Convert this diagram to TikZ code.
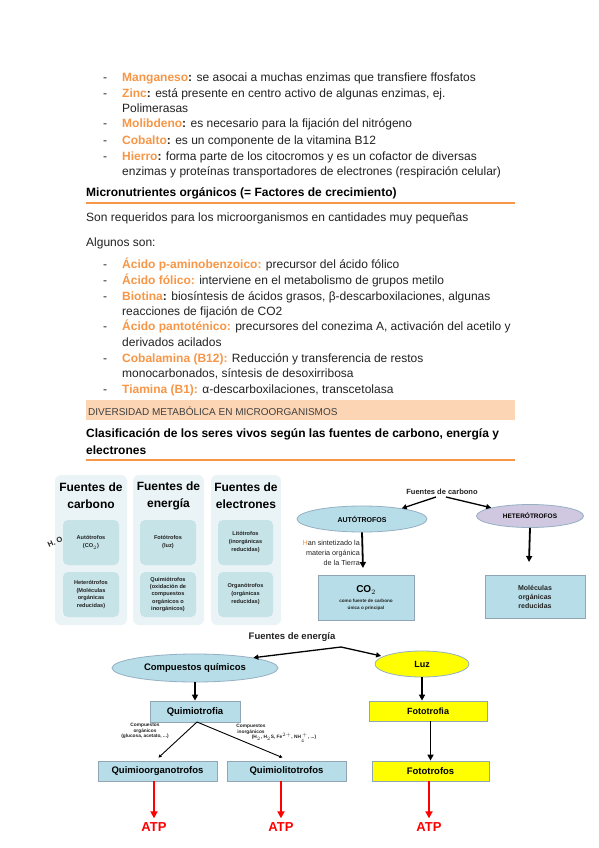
\documentclass[tikz,border=0pt]{standalone}
\usepackage{fontspec}
\setmainfont{Liberation Sans}
\usetikzlibrary{shapes.geometric,arrows.meta}
\definecolor{orng}{HTML}{F79646}
\definecolor{band}{HTML}{FCD5B4}
\definecolor{tblbg}{HTML}{EAF3F5}
\definecolor{tblin}{HTML}{C6E3E8}
\definecolor{lblue}{HTML}{B7DEE8}
\definecolor{lav}{HTML}{D0C8E0}
\definecolor{edgec}{HTML}{95AFC3}
\definecolor{yel}{HTML}{FFFF00}
\definecolor{txt}{HTML}{222222}
\newcommand\og[1]{\textcolor{orng}{\textbf{#1}}}
\begin{document}
\begin{tikzpicture}[x=1pt,y=-1pt,
  body/.style={anchor=base west,inner sep=0,text=txt,font=\fontsize{12}{15}\selectfont},
  dashmark/.style={anchor=base west,inner sep=0,text=txt,font=\fontsize{12}{15}\selectfont},
  hd/.style={anchor=base west,inner sep=0,font=\fontsize{12}{15}\selectfont\bfseries},
  col/.style={fill=tblbg,rounded corners=6pt,inner sep=0},
  cell/.style={fill=tblin,rounded corners=5pt,inner sep=0,minimum width=56,minimum height=45},
  celltxt/.style={align=center,inner sep=0,font=\fontsize{5.6}{8}\selectfont\bfseries,text=txt},
  colhd/.style={align=center,inner sep=0,font=\fontsize{12}{17}\selectfont\bfseries},
  ell/.style={ellipse,draw=edgec,line width=0.8pt,inner sep=0},
  bx/.style={rectangle,draw=edgec!80!gray,line width=0.8pt,inner sep=0},
  blk/.style={-{Triangle[length=6pt,width=6pt]},line width=1.8pt},
  thn/.style={-{Triangle[length=5pt,width=5pt]},line width=1.3pt},
  tiny/.style={-{Triangle[length=3pt,width=3pt]},line width=0.9pt},
  redar/.style={-{Triangle[length=7pt,width=7pt]},line width=1.8pt,red},
  atp/.style={font=\fontsize{13}{15}\selectfont\bfseries,text=red,inner sep=0}
]
\useasboundingbox[fill=white] (0,0) rectangle (599,848);

% ---------- top list ----------
\foreach \yy in {82,98,128,144,160} {\node[dashmark] at (103,\yy) {-};}
\node[body] (l1) at (122,82) {\og{Manganeso}\textbf{:} se asocai a muchas enzimas que transfiere ffosfatos};
\node[body] (l2) at (122,98) {\og{Zinc}\textbf{:} está presente en centro activo de algunas enzimas, ej.};
\node[body] (l3) at (122,113) {Polimerasas};
\node[body] (l4) at (122,128) {\og{Molibdeno}\textbf{:} es necesario para la fijación del nitrógeno};
\node[body] (l5) at (122,144) {\og{Cobalto}\textbf{:} es un componente de la vitamina B12};
\node[body] (l6) at (122,160) {\og{Hierro}\textbf{:} forma parte de los citocromos y es un cofactor de diversas};
\node[body] (l7) at (122,175) {enzimas y proteínas transportadores de electrones (respiración celular)};

\node[hd] (h1) at (86,196) {Micronutrientes orgánicos (= Factores de crecimiento)};
\draw[orng,line width=1.5pt] (86,203) -- (515,203);
\node[body] (s1) at (86,221) {Son requeridos para los microorganismos en cantidades muy pequeñas};
\node[body] (s2) at (86,246) {Algunos son:};

\foreach \yy in {268,284,300,330,362,393} {\node[dashmark] at (103,\yy) {-};}
\node[body] (m1) at (122,268) {\og{Ácido p-aminobenzoico:} precursor del ácido fólico};
\node[body] (m2) at (122,284) {\og{Ácido fólico:} interviene en el metabolismo de grupos metilo};
\node[body] (m3) at (122,300) {\og{Biotina}\textbf{:} biosíntesis de ácidos grasos, β-descarboxilaciones, algunas};
\node[body] (m4) at (122,315) {reacciones de fijación de CO2};
\node[body] (m5) at (122,330) {\og{Ácido pantoténico:} precursores del conezima A, activación del acetilo y};
\node[body] (m6) at (122,346) {derivados acilados};
\node[body] (m7) at (122,362) {\og{Cobalamina (B12):} Reducción y transferencia de restos};
\node[body] (m8) at (122,377) {monocarbonados, síntesis de desoxirribosa};
\node[body] (m9) at (122,393) {\og{Tiamina (B1):} α-descarboxilaciones, transcetolasa};

\fill[band] (86,400) rectangle (515,420);
\node[anchor=base west,inner sep=0,text=black!75,font=\fontsize{10}{12}\selectfont] (band) at (88,415) {DIVERSIDAD METABÓLICA EN MICROORGANISMOS};

\node[hd] (c1) at (86,437) {Clasificación de los seres vivos según las fuentes de carbono, energía y};
\node[hd] (c2) at (86,454) {electrones};
\draw[orng,line width=1.5pt] (86,460) -- (515,460);

% ---------- left table ----------
\node[col,minimum width=72,minimum height=150] (colA) at (91,550) {};
\node[col,minimum width=71,minimum height=150] (colB) at (168.5,550) {};
\node[col,minimum width=70,minimum height=150] (colC) at (246,550) {};
\node[colhd] (hA) at (91,496) {Fuentes de\\carbono};
\node[colhd] (hB) at (168.5,496) {Fuentes de\\energía};
\node[colhd] (hC) at (246,496) {Fuentes de\\electrones};
\node[cell] (a1) at (91,542.5) {};
\node[cell] (a2) at (91,594.5) {};
\node[cell] (b1) at (168,542.5) {};
\node[cell] (b2) at (168,594.5) {};
\node[cell,minimum width=55] (d1) at (245.5,542.5) {};
\node[cell,minimum width=55] (d2) at (245.5,594.5) {};
\node[celltxt] at (a1) {Autótrofos\\(CO$_2$)};
\node[celltxt,font=\fontsize{5.6}{7.5}\selectfont\bfseries] at (a2) {Heterótrofos\\(Moléculas\\orgánicas\\reducidas)};
\node[celltxt] at (b1) {Fotótrofos\\(luz)};
\node[celltxt,font=\fontsize{5.6}{7.2}\selectfont\bfseries] at (b2) {Quimiótrofos\\(oxidación de\\compuestos\\orgánicos o\\inorgánicos)};
\node[celltxt] at (d1) {Litótrofos\\(inorgánicas\\reducidas)};
\node[celltxt] at (d2) {Organótrofos\\(orgánicas\\reducidas)};
\node[rotate=25,inner sep=0,font=\fontsize{7.5}{9}\selectfont\bfseries,text=txt] (h2o) at (55,542) {H. O};

% ---------- carbon diagram ----------
\node[inner sep=0,font=\fontsize{7.5}{9}\selectfont\bfseries,text=txt] (fc) at (442,492) {Fuentes de carbono};
\node[ell,fill=lblue,minimum width=130,minimum height=26] (auto) at (362,519) {\fontsize{7}{8}\selectfont\bfseries AUTÓTROFOS};
\node[ell,fill=lav,minimum width=107,minimum height=23] (het) at (530,516) {\fontsize{6.5}{8}\selectfont\bfseries HETERÓTROFOS};
\coordinate (fcl) at (436,497);
\coordinate (fcr) at (446,497);
\draw[thn] (fcl) -- (auto.15);
\draw[thn] (fcr) -- (het.168);
\node[bx,fill=lblue,minimum width=96,minimum height=45] (co2) at (366,597.5) {};
\node[inner sep=0,font=\fontsize{10}{12}\selectfont\bfseries] (co2t) at (366,590) {CO$_2$};
\node[inner sep=0,align=center,font=\fontsize{4.6}{6.5}\selectfont\bfseries,text=txt] (co2s) at (366,605) {como fuente de carbono\\única o principal};
\node[bx,fill=lblue,minimum width=100,minimum height=43] (mol) at (535,596.5) {};
\node[inner sep=0,align=center,font=\fontsize{7}{9}\selectfont\bfseries,text=txt] (molt) at (535,597) {Moléculas\\orgánicas\\reducidas};
\coordinate (autoend) at (363,568);
\coordinate (hetend) at (529,562);
\draw[blk] (auto.south) -- (autoend);
\draw[blk] (het.south) -- (hetend);
\node[anchor=north east,align=right,inner sep=0,font=\fontsize{7.2}{10}\selectfont,text=txt] (han) at (360,540) {\textcolor{orng}{H}an sintetizado la\\materia orgánica\\de la Tierra};

% ---------- energy diagram ----------
\node[inner sep=0,font=\fontsize{9.5}{11}\selectfont\bfseries,text=txt] (fe) at (292,637) {Fuentes de energía};
\coordinate (eap) at (341,647);
\node[ell,fill=lblue,minimum width=166,minimum height=28] (comp) at (195,668) {\fontsize{9.5}{11}\selectfont\bfseries Compuestos químicos};
\node[ell,fill=yel,minimum width=94,minimum height=26] (luz) at (422,664) {\fontsize{9}{11}\selectfont\bfseries Luz};
\draw[thn] (eap) -- (comp.10);
\draw[thn] (eap) -- ([xshift=-3pt]luz.168);

\node[bx,fill=lblue,minimum width=90,minimum height=21] (qt) at (195,711.5) {\fontsize{9.5}{11}\selectfont\bfseries Quimiotrofia};
\draw[blk] (comp.south) -- (qt.north);
\node[bx,fill=yel,minimum width=118,minimum height=20] (ft) at (428,711) {\fontsize{9}{11}\selectfont\bfseries Fototrofia};
\draw[blk] (luz.south) -- (luz.south |- ft.north);

\node[inner sep=0,align=center,font=\fontsize{4.8}{5.8}\selectfont\bfseries,text=txt] (lo) at (145,731) {Compuestos\\orgánicos\\(glucosa, acetato, ...)};
\node[inner sep=0,align=center,font=\fontsize{4.8}{5.8}\selectfont\bfseries,text=txt] (li1) at (251,729) {Compuestos\\inorgánicos};
\node[inner sep=0,font=\fontsize{4.8}{5.8}\selectfont\bfseries,text=txt] (li2) at (284,737.5) {(H$_2$, H$_2$S, Fe$^{2+}$, NH$_4^{\,+}$, ...)};

\node[bx,fill=lblue,minimum width=119,minimum height=20] (qo) at (157.5,771) {\fontsize{9.5}{11}\selectfont\bfseries Quimioorganotrofos};
\node[bx,fill=lblue,minimum width=119,minimum height=20] (ql) at (286.5,771) {\fontsize{9.5}{11}\selectfont\bfseries Quimiolitotrofos};
\node[bx,fill=yel,minimum width=117,minimum height=20] (fo) at (430.5,771) {\fontsize{9.5}{11}\selectfont\bfseries Fototrofos};
\coordinate (qsp) at (197,722);
\draw[tiny] (qsp) -- ([xshift=1pt,yshift=3pt]qo.north);
\draw[tiny] (qsp) -- ([xshift=-4pt,yshift=3pt]ql.north);
\draw[blk] (ft.south -| fo.north) -- (fo.north);

\node[atp] (atp1) at (154,827) {ATP};
\node[atp] (atp2) at (281,827) {ATP};
\node[atp] (atp3) at (429,827) {ATP};
\draw[redar] (qo.south -| atp1) -- ([yshift=4pt]atp1.north);
\draw[redar] (ql.south -| atp2) -- ([yshift=4pt]atp2.north);
\draw[redar] (fo.south -| atp3) -- ([yshift=4pt]atp3.north);
\end{tikzpicture}
\end{document}
